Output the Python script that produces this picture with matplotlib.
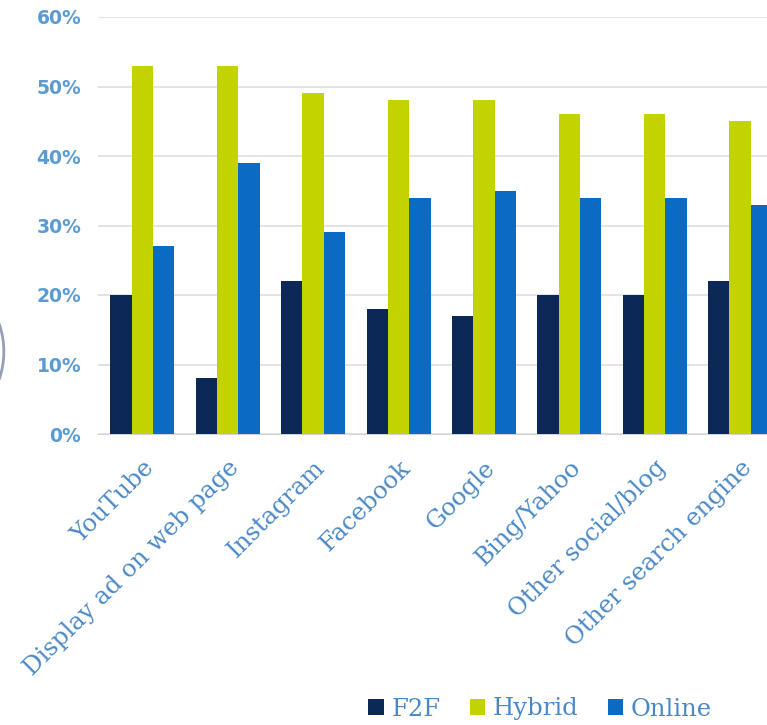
import matplotlib.pyplot as plt
import numpy as np
from matplotlib.patches import Arc

# data (percent)
categories = ['YouTube', 'Display ad on web page', 'Instagram', 'Facebook',
              'Google', 'Bing/Yahoo', 'Other social/blog', 'Other search engine']
f2f = [20, 8, 22, 18, 17, 20, 20, 22]
hybrid = [53, 53, 49, 48, 48, 46, 46, 45]
online = [27, 39, 29, 34, 35, 34, 34, 33]
yticks = [0, 10, 20, 30, 40, 50, 60]

c_f2f = '#0c2857'
c_hyb = '#c2d300'
c_onl = '#0b6bc4'
label_col = '#4a88c6'

fig = plt.figure(figsize=(7.67, 7.25), dpi=100)
ax = fig.add_axes([98 / 767, 1 - 434 / 725, 683 / 767, 417 / 725])

x = np.arange(len(categories))
w = 0.25
ax.bar(x - w, f2f, w, color=c_f2f, label='F2F', zorder=3)
ax.bar(x, hybrid, w, color=c_hyb, label='Hybrid', zorder=3)
ax.bar(x + w, online, w, color=c_onl, label='Online', zorder=3)

ax.set_xlim(-0.52, 7.48)
ax.set_ylim(0, 60)
ax.set_yticks(yticks)
ax.set_yticklabels([f'{t}%' for t in yticks], fontsize=13.5, fontweight='bold',
                   color='#5a9bd3', family='DejaVu Sans')
ax.yaxis.grid(True, color='#dcdfe3', linewidth=1.2, zorder=0)
ax.tick_params(axis='y', length=0, pad=12)
ax.tick_params(axis='x', length=0, pad=16)
ax.set_xticks(x)
ax.set_xticklabels(categories, rotation=45, ha='right', rotation_mode='anchor',
                   fontsize=17.5, color=label_col, family='DejaVu Serif')
for s in ['top', 'right', 'left']:
    ax.spines[s].set_visible(False)
ax.spines['bottom'].set_color('#d0d4d8')

# dark arc cut off at the left edge
fig.patches.append(Arc((-0.075, 0.515), 0.16, 0.2, theta1=-90, theta2=90,
                       transform=fig.transFigure, color='#1a2a5a',
                       linewidth=2, alpha=0.45))

fig.legend(loc='center', bbox_to_anchor=(540 / 767, 1 - 709 / 725), ncol=3,
           frameon=False, handlelength=0.65, handleheight=0.65, handletextpad=0.3,
           columnspacing=1.2, prop={'family': 'DejaVu Serif', 'size': 17.5},
           labelcolor=label_col)

fig.savefig('out.png', dpi=100)
